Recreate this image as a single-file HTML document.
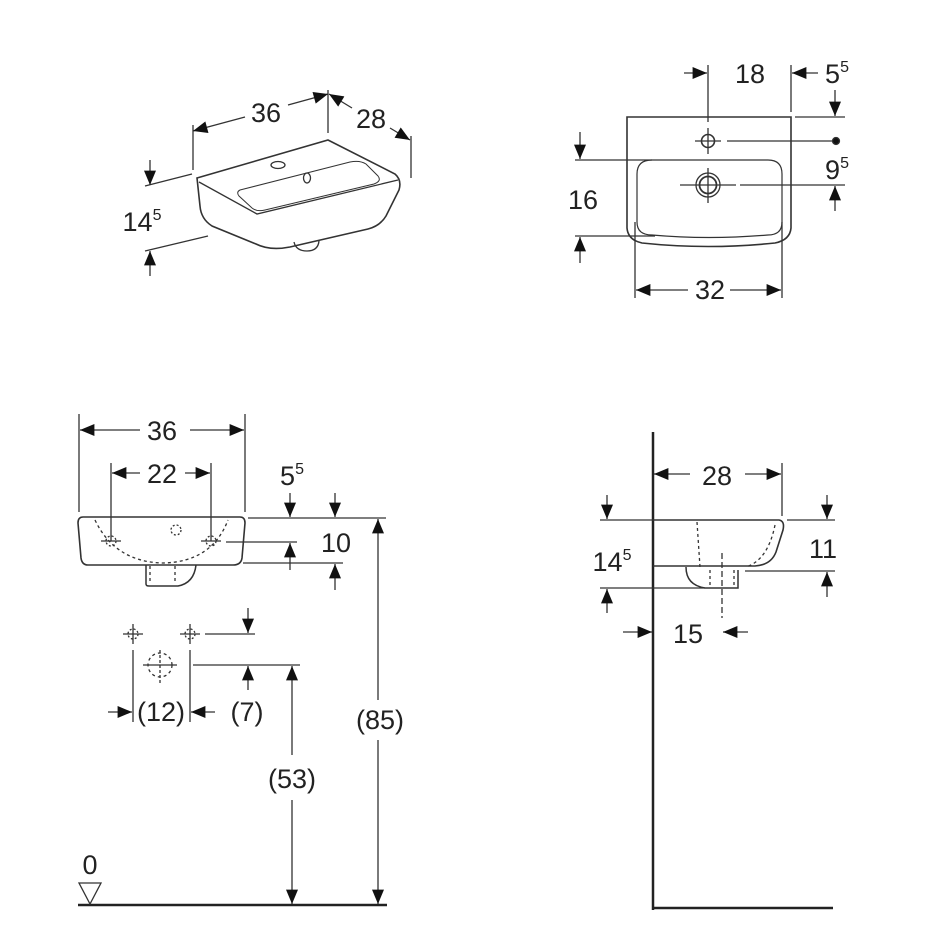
<!DOCTYPE html>
<html><head><meta charset="utf-8"><style>
html,body{margin:0;padding:0;background:#fff;}
svg{display:block;}
text{font-family:"Liberation Sans",sans-serif;fill:#222;font-size:27px;text-anchor:middle;}
tspan.s{font-size:16px;}
</style></head><body>
<svg width="945" height="945" viewBox="0 0 945 945" xmlns="http://www.w3.org/2000/svg">
<defs>
<marker id="a" viewBox="0 0 12 10" refX="12" refY="5" markerWidth="15" markerHeight="12" markerUnits="userSpaceOnUse" orient="auto"><path d="M0,0 L12,5 L0,10 Z" fill="#111"/></marker>
</defs>
<g stroke="#333" stroke-width="1.3" fill="none">
<line x1="193" y1="125" x2="193" y2="170"/><line x1="328" y1="90" x2="328" y2="133"/><line x1="411" y1="136" x2="411" y2="178"/>
<line x1="245" y1="117" x2="193" y2="131" marker-end="url(#a)"/>
<line x1="288" y1="105" x2="328" y2="94" marker-end="url(#a)"/>
<line x1="352" y1="108" x2="329" y2="94" marker-end="url(#a)"/>
<line x1="390" y1="128" x2="410" y2="140" marker-end="url(#a)"/>
<line x1="145" y1="186" x2="192" y2="174"/><line x1="145" y1="251" x2="208" y2="236"/>
<line x1="150" y1="160" x2="150" y2="185" marker-end="url(#a)"/>
<line x1="150" y1="276" x2="150" y2="251" marker-end="url(#a)"/>
<path d="M197,178 L328,140 L395,174 Q402,180 399,190 L386,216 Q380,226 368,229 L290,247 Q270,251 256,244 L212,226 Q201,219 200,206 Z" stroke-width="1.6"/>
<path d="M199,182 L257,214 L398,180"/>
<path d="M240,190 L350,162 Q360,160 366,164 L378,176 Q382,181 374,184 L265,210 Q257,212 252,208 L239,196 Q236,192 240,190 Z" stroke-width="1"/>
<ellipse cx="278" cy="165" rx="7" ry="3.5"/><ellipse cx="307" cy="178" rx="3.5" ry="5"/>
<path d="M294,242 Q296,251 307,251 Q318,251 319,241"/>
<path d="M627,117 L791,117 L791,228 Q790,240 775,243 Q708,250 642,243 Q628,240 627,228 Z" stroke-width="1.6"/>
<path d="M652,160 L768,160 Q782,160 782,174 L782,222 Q782,235 768,235 Q708,240 652,235 Q637,235 637,222 L637,174 Q637,160 652,160 Z" stroke-width="1.2"/>
<circle cx="708" cy="141" r="6.5" stroke-width="1.6"/>
<line x1="695" y1="141" x2="721" y2="141"/><line x1="708" y1="128" x2="708" y2="154"/>
<circle cx="708" cy="185" r="12"/><circle cx="708" cy="185" r="8.5" stroke-width="1.8"/>
<line x1="680" y1="185" x2="736" y2="185"/><line x1="708" y1="168" x2="708" y2="203"/>
<line x1="708" y1="65" x2="708" y2="122"/><line x1="684" y1="73" x2="707" y2="73" marker-end="url(#a)"/>
<line x1="791" y1="65" x2="791" y2="112"/><line x1="818" y1="73" x2="792" y2="73" marker-end="url(#a)"/>
<line x1="835" y1="90" x2="835" y2="116" marker-end="url(#a)"/><line x1="795" y1="117" x2="845" y2="117"/>
<line x1="727" y1="141" x2="832" y2="141"/><circle cx="836" cy="141" r="3.5" fill="#111"/>
<line x1="740" y1="185" x2="845" y2="185"/><line x1="835" y1="211" x2="835" y2="186" marker-end="url(#a)"/>
<line x1="580" y1="132" x2="580" y2="159" marker-end="url(#a)"/><line x1="575" y1="160" x2="652" y2="160"/>
<line x1="575" y1="236" x2="655" y2="236"/><line x1="580" y1="263" x2="580" y2="237" marker-end="url(#a)"/>
<line x1="635" y1="222" x2="635" y2="298"/><line x1="782" y1="222" x2="782" y2="298"/>
<line x1="688" y1="290" x2="636" y2="290" marker-end="url(#a)"/><line x1="730" y1="290" x2="781" y2="290" marker-end="url(#a)"/>
<line x1="79" y1="414" x2="79" y2="512"/><line x1="245" y1="414" x2="245" y2="512"/>
<line x1="140" y1="430" x2="80" y2="430" marker-end="url(#a)"/><line x1="190" y1="430" x2="244" y2="430" marker-end="url(#a)"/>
<line x1="111" y1="463" x2="111" y2="541"/><line x1="211" y1="463" x2="211" y2="541"/>
<line x1="140" y1="473" x2="112" y2="473" marker-end="url(#a)"/><line x1="185" y1="473" x2="210" y2="473" marker-end="url(#a)"/>
<path d="M83,517 L240,517 Q245,517 245,523 L242,558 Q241,565 233,565 L88,565 Q82,565 81,558 L78,523 Q78,517 83,517 Z" stroke-width="1.6"/>
<path d="M146,565 L146,584 Q146,586 149,586 L178,586 Q194,583 196,565" stroke-width="1.5"/>
<path d="M95,520 Q115,562 163,563 Q212,562 228,520" stroke-dasharray="3,3"/>
<line x1="150" y1="566" x2="150" y2="584" stroke-dasharray="3,3"/><line x1="175" y1="566" x2="175" y2="584" stroke-dasharray="3,3"/>
<circle cx="176" cy="530" r="5" stroke-dasharray="2,2"/>
<line x1="101" y1="541" x2="121" y2="541"/><line x1="201" y1="541" x2="221" y2="541"/>
<circle cx="111" cy="541" r="5" stroke-dasharray="2,2"/><circle cx="211" cy="541" r="5" stroke-dasharray="2,2"/>
<line x1="248" y1="518" x2="386" y2="518"/>
<line x1="290" y1="493" x2="290" y2="517" marker-end="url(#a)"/><line x1="335" y1="493" x2="335" y2="517" marker-end="url(#a)"/>
<line x1="226" y1="542" x2="297" y2="542"/><line x1="290" y1="570" x2="290" y2="543" marker-end="url(#a)"/>
<line x1="243" y1="563" x2="343" y2="563"/><line x1="335" y1="590" x2="335" y2="564" marker-end="url(#a)"/>
<line x1="378" y1="700" x2="378" y2="519" marker-end="url(#a)"/><line x1="378" y1="740" x2="378" y2="904" marker-end="url(#a)"/>
<line x1="123" y1="634" x2="143" y2="634"/><line x1="133" y1="624" x2="133" y2="644"/><circle cx="133" cy="634" r="5" stroke-dasharray="2,2"/>
<line x1="180" y1="634" x2="200" y2="634"/><line x1="190" y1="624" x2="190" y2="644"/><circle cx="190" cy="634" r="5" stroke-dasharray="2,2"/>
<line x1="205" y1="634" x2="255" y2="634"/><line x1="248" y1="608" x2="248" y2="633" marker-end="url(#a)"/>
<circle cx="160" cy="665" r="12" stroke-dasharray="3,3"/><line x1="143" y1="665" x2="177" y2="665"/><line x1="160" y1="650" x2="160" y2="683" stroke-dasharray="3,2"/>
<line x1="193" y1="665" x2="300" y2="665"/>
<line x1="248" y1="690" x2="248" y2="666" marker-end="url(#a)"/>
<line x1="292" y1="755" x2="292" y2="666" marker-end="url(#a)"/><line x1="292" y1="800" x2="292" y2="904" marker-end="url(#a)"/>
<line x1="133" y1="650" x2="133" y2="722"/><line x1="190" y1="650" x2="190" y2="722"/>
<line x1="108" y1="712" x2="132" y2="712" marker-end="url(#a)"/><line x1="215" y1="712" x2="191" y2="712" marker-end="url(#a)"/>
<line x1="78" y1="905" x2="387" y2="905" stroke-width="2.5" stroke="#222"/>
<path d="M79,883 L101,883 L90,904 Z"/>
<line x1="653" y1="432" x2="653" y2="910" stroke-width="2.5" stroke="#222"/>
<line x1="653" y1="908" x2="833" y2="908" stroke-width="2.5" stroke="#222"/>
<line x1="782" y1="463" x2="782" y2="516"/>
<line x1="690" y1="474" x2="654" y2="474" marker-end="url(#a)"/><line x1="745" y1="474" x2="781" y2="474" marker-end="url(#a)"/>
<path d="M653,520 L779,520 Q785,521 783,530 L776,552 Q771,565 755,566 L653,566" stroke-width="1.6"/>
<path d="M686,567 Q686,585 705,588 L738,588 L738,570" stroke-width="1.5"/>
<path d="M697,522 L700,567" stroke-dasharray="3,3"/><path d="M775,525 Q768,560 746,567" stroke-dasharray="3,3"/>
<line x1="710" y1="570" x2="710" y2="587" stroke-dasharray="3,3"/><line x1="734" y1="570" x2="734" y2="587" stroke-dasharray="3,3"/>
<line x1="722" y1="553" x2="722" y2="618" stroke-dasharray="6,3"/>
<line x1="607" y1="495" x2="607" y2="519" marker-end="url(#a)"/><line x1="600" y1="520" x2="653" y2="520"/>
<line x1="600" y1="588" x2="705" y2="588"/><line x1="607" y1="613" x2="607" y2="589" marker-end="url(#a)"/>
<line x1="787" y1="520" x2="835" y2="520"/><line x1="827" y1="495" x2="827" y2="519" marker-end="url(#a)"/>
<line x1="745" y1="571" x2="835" y2="571"/><line x1="827" y1="597" x2="827" y2="572" marker-end="url(#a)"/>
<line x1="623" y1="632" x2="652" y2="632" marker-end="url(#a)"/><line x1="748" y1="632" x2="723" y2="632" marker-end="url(#a)"/>
</g>
<text x="266" y="122">36</text>
<text x="371" y="128">28</text>
<text x="142" y="231">14<tspan class="s" dy="-11">5</tspan></text>
<text x="750" y="83">18</text>
<text x="837" y="83">5<tspan class="s" dy="-11">5</tspan></text>
<text x="837" y="179">9<tspan class="s" dy="-11">5</tspan></text>
<text x="583" y="209">16</text>
<text x="710" y="299">32</text>
<text x="162" y="440">36</text>
<text x="162" y="483">22</text>
<text x="292" y="485">5<tspan class="s" dy="-11">5</tspan></text>
<text x="336" y="552">10</text>
<text x="161" y="721">(12)</text>
<text x="247" y="721">(7)</text>
<text x="380" y="729">(85)</text>
<text x="292" y="788">(53)</text>
<text x="90" y="874">0</text>
<text x="717" y="485">28</text>
<text x="612" y="571">14<tspan class="s" dy="-11">5</tspan></text>
<text x="823" y="558">11</text>
<text x="688" y="643">15</text>
</svg>
</body></html>
